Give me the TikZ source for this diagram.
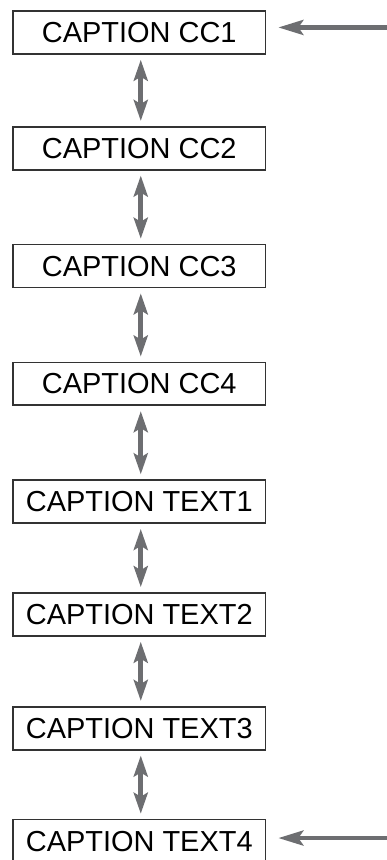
\documentclass[tikz,border=0pt]{standalone}
\usepackage{fontspec}
\setmainfont{Liberation Sans}
\usepackage{tikz}
\usetikzlibrary{arrows.meta,calc}
\definecolor{boxline}{HTML}{333333}
\definecolor{arrowgray}{HTML}{6D6E71}

\begin{document}
\begin{tikzpicture}[x=1pt,y=-1pt,
  capbox/.style={draw=boxline,line width=1.7pt,minimum width=253pt,minimum height=43pt,inner sep=0pt,font=\fontsize{29}{31}\selectfont},
  linkarrow/.style={{Stealth[length=21pt,width=14pt,inset=4pt]}-{Stealth[length=21pt,width=14pt,inset=4pt]},arrowgray,line width=5pt,shorten <=5pt,shorten >=5pt},
  inarrow/.style={-{Stealth[length=25pt,width=15pt,inset=5pt]},arrowgray,line width=4.5pt,shorten >=12pt}]
\useasboundingbox (0,0) rectangle (387,861.5);
\foreach \name/\y/\lab in {cc1/32.5/CAPTION CC1, cc2/148.5/CAPTION CC2, cc3/266.5/CAPTION CC3, cc4/384.5/CAPTION CC4,
  txt1/502.5/CAPTION TEXT1, txt2/615.5/CAPTION TEXT2, txt3/729.5/CAPTION TEXT3, txt4/842.5/CAPTION TEXT4}{
  \node[capbox] (\name) at (139.5,\y) {\lab};}
% links between the captions
\foreach \a/\b in {cc1/cc2, cc2/cc3, cc3/cc4, cc4/txt1, txt1/txt2, txt2/txt3, txt3/txt4}{
  \draw[linkarrow] ($(\a.south)+(1.5,0)$) -- ($(\b.north)+(1.5,0)$);}
% incoming arrows
\coordinate (in1) at ($(cc1.east)+(121,-5)$);
\coordinate (in2) at ($(txt4.east)+(121,-3)$);
\draw[inarrow] (in1) -- (in1 -| cc1.east);
\draw[inarrow] (in2) -- (in2 -| txt4.east);
\end{tikzpicture}
\end{document}
